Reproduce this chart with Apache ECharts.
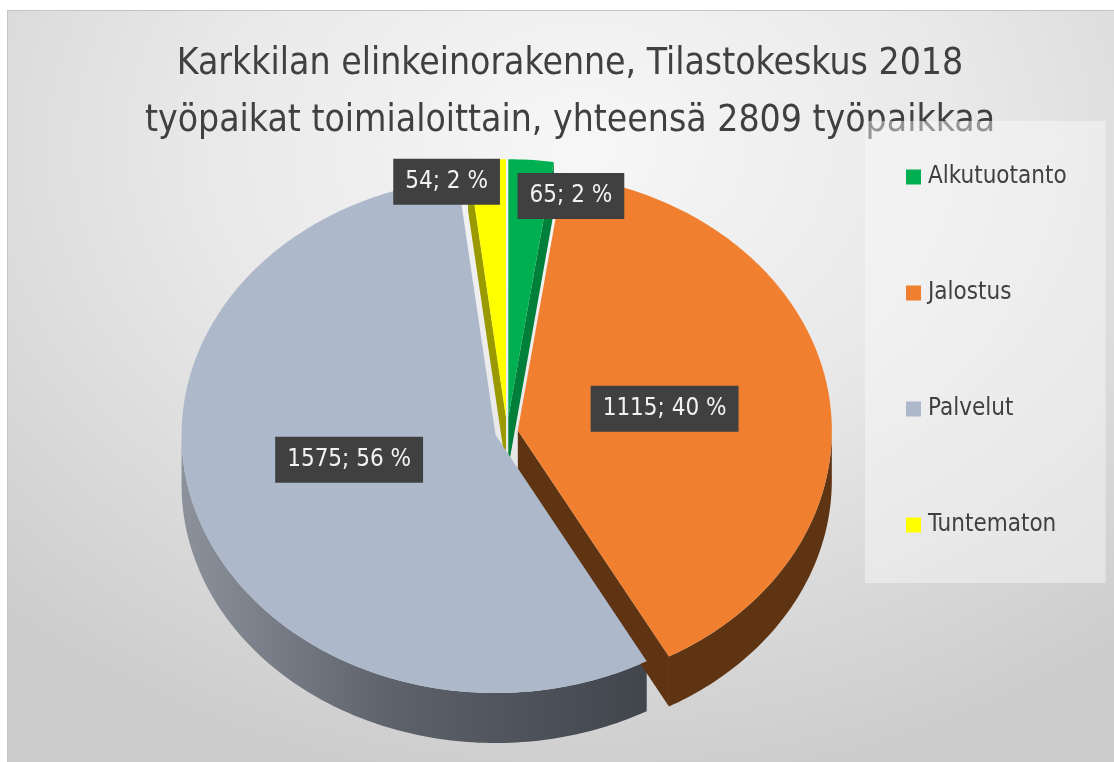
<!DOCTYPE html>
<html>
<head>
<meta charset="utf-8">
<script src="https://cdn.jsdelivr.net/npm/echarts@6/dist/echarts.min.js"></script>
<style>
  html, body { margin: 0; padding: 0; background: #fff; }
  #bg {
    position: absolute; left: 7px; top: 10px; width: 1107px; height: 752px;
    border-top: 1px solid #c4c4c4; border-left: 1px solid #c4c4c4;
    background: radial-gradient(ellipse 75% 85% at 52% 18%, #f7f7f7 0%, #e9e9e9 45%, #cdcdcd 100%);
  }
  #main { position: absolute; left: 0; top: 0; width: 1114px; height: 762px; }
</style>
</head>
<body>
<div id="bg"></div>
<div id="main"></div>
<script>
// toimialat ja työpaikat
var categories = ['Alkutuotanto', 'Jalostus', 'Palvelut', 'Tuntematon'];
var values = [65, 1115, 1575, 54];

var topColors = ['#00b050', '#f07f2f', '#adb9ca', '#ffff00'];
var sideColors = ['#007f3a', '#5e3412', null, '#9a9a00'];
var explodeDist = [18, 11, 12, 18];
// label: radial fraction + nudge (Excel best fit)
var labelPos = [[0.86, 43, 0], [0.475, 0, 0], [0.49, 0, -14], [0.914, -42, 0]];

var FONT = '"Liberation Sans Narrow", "DejaVu Sans Condensed", "Liberation Sans", sans-serif';
var pie = { cx: 507, cy: 432, rx: 314, ry: 258, depth: 50 };

var total = values.reduce(function (a, b) { return a + b; }, 0);
var cum = [0];
for (var i = 0; i < values.length; i++) cum.push(cum[i] + values[i]);

function pt(c, a, dy) {
  return [c[0] + pie.rx * Math.sin(a), c[1] - pie.ry * Math.cos(a) + (dy || 0)];
}
function arc(c, a, b, dy) {
  var n = Math.max(2, Math.ceil((b - a) / (Math.PI / 180)));
  var pts = [];
  for (var k = 0; k <= n; k++) pts.push(pt(c, a + (b - a) * k / n, dy));
  return pts;
}

function renderSlice(params, api) {
  var i = params.seriesIndex;
  var v = api.value(0);
  var a0 = cum[i] / total * Math.PI * 2;
  var a1 = a0 + v / total * Math.PI * 2;
  var mid = (a0 + a1) / 2;
  var d = explodeDist[i];
  var c = [pie.cx + d * Math.sin(mid), pie.cy - d * Math.cos(mid) * pie.ry / pie.rx];
  var D = pie.depth;
  var children = [];

  // ulkoseinä (näkyvä etupuoli)
  var s = Math.max(a0, Math.PI / 2), e = Math.min(a1, Math.PI * 1.5);
  if (e > s) {
    var fill = sideColors[i] || new echarts.graphic.LinearGradient(0, 0, 1, 0, [
      { offset: 0, color: '#8c929c' },
      { offset: 0.45, color: '#5d626b' },
      { offset: 1, color: '#41454c' }
    ]);
    children.push({
      type: 'polygon', z2: 1,
      shape: { points: arc(c, s, e, 0).concat(arc(c, s, e, D).reverse()) },
      style: { fill: fill }
    });
  }
  // leikkauspinnat
  var edges = [];
  if (Math.sin(a0) < -1e-6) edges.push(a0);
  if (Math.sin(a1) > 1e-6) edges.push(a1);
  edges.forEach(function (a) {
    var p = pt(c, a);
    children.push({
      type: 'polygon', z2: 2,
      shape: { points: [c, p, [p[0], p[1] + D], [c[0], c[1] + D]] },
      style: { fill: sideColors[i] || '#41454c' }
    });
  });
  // yläpinta
  children.push({
    type: 'polygon', z2: 10,
    shape: { points: [c].concat(arc(c, a0, a1, 0)) },
    style: { fill: topColors[i] }
  });
  // arvo
  var lp = labelPos[i];
  var lx = c[0] + lp[0] * pie.rx * Math.sin(mid) + lp[1];
  var ly = c[1] - lp[0] * pie.ry * Math.cos(mid) + lp[2];
  children.push({
    type: 'text', z2: 20,
    style: {
      text: v + '; ' + Math.round(v / total * 100) + ' %',
      x: lx, y: ly, align: 'center', verticalAlign: 'middle',
      fill: '#f2f2f2', font: '24px ' + FONT,
      backgroundColor: '#404040', padding: [11, 12, 11, 12],
      boxShadowColor: 'rgba(0,0,0,0.22)', boxShadowBlur: 3,
      boxShadowOffsetX: 3, boxShadowOffsetY: 4
    }
  });
  return { type: 'group', children: children };
}

var chart = echarts.init(document.getElementById('main'));
chart.setOption({
  backgroundColor: 'transparent',
  animation: false,
  title: {
    text: 'Karkkilan elinkeinorakenne, Tilastokeskus 2018\ntyöpaikat toimialoittain, yhteensä 2809 työpaikkaa',
    left: 570, top: 36, textAlign: 'center', z: 1, padding: 0,
    textStyle: { fontFamily: FONT, fontSize: 37, fontWeight: 'normal', color: '#404040', lineHeight: 57 }
  },
  legend: {
    orient: 'vertical', left: 865, top: 121, z: 5,
    data: categories,
    icon: 'rect', itemWidth: 15, itemHeight: 15, itemGap: 86,
    padding: [41, 39, 43, 41],
    backgroundColor: 'rgba(250,250,250,0.45)',
    selectedMode: false,
    textStyle: { fontFamily: FONT, fontSize: 24, color: '#404040', lineHeight: 30, padding: [0, 0, 0, 2] }
  },
  series: categories.map(function (name, i) {
    return {
      type: 'custom', name: name, coordinateSystem: 'none', z: 2,
      itemStyle: { color: topColors[i] },
      renderItem: renderSlice,
      data: [values[i]]
    };
  })
});
</script>
</body>
</html>
